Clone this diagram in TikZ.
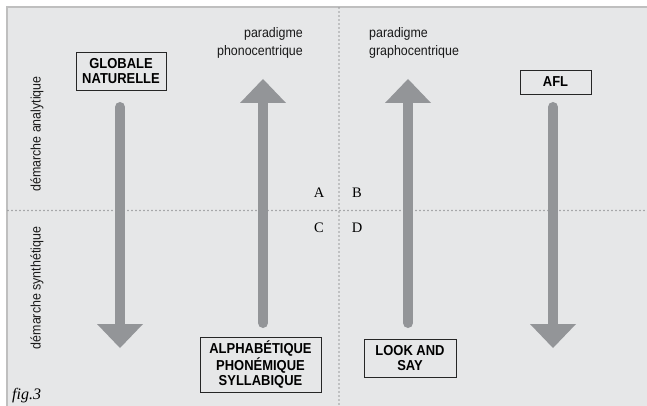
\documentclass[tikz,border=0pt]{standalone}
\usepackage{fontspec}
\setmainfont{Liberation Sans}
\newfontfamily\narrowsans[FakeStretch=0.9]{Liberation Sans}
\newfontfamily\seriffont{Liberation Serif}
\begin{document}
\begin{tikzpicture}[x=1pt,y=-1pt,
  shaft/.style={draw=arrc,line width=10pt,line cap=round},
  head/.style={fill=arrc},
  dotline/.style={draw=dotc,line width=1.9pt,dash pattern=on 0pt off 4pt,line cap=round},
  boxnode/.style={draw=black!85,line width=0.9pt,fill=bgc,inner sep=0pt,align=center,
     font=\narrowsans\fontsize{14.4}{15.5}\selectfont\bfseries},
  lbl/.style={inner sep=0pt,text=black!90,font=\narrowsans\fontsize{13.8}{18}\selectfont},
  letter/.style={inner sep=0pt,font=\seriffont\fontsize{14.5}{16}\selectfont}]
\definecolor{bgc}{HTML}{E6E7E8}
\definecolor{arrc}{HTML}{939598}
\definecolor{dotc}{HTML}{9A9B9D}
\useasboundingbox (0,0) rectangle (647,406);
\fill[white] (0,0) rectangle (647,406);
\fill[bgc] (7,7) rectangle (647,406);
\draw[draw=black!25,line width=1.5pt] (7,406) -- (7,7) -- (647,7);
% dotted axes
\coordinate (hl) at (8,210.5);
\coordinate (hr) at (647,210.5);
\coordinate (vt) at (339,8);
\coordinate (vb) at (339,406);
\draw[dotline] (hl) -- (hr);
\draw[dotline] (vt) -- (vb);
% boxes
\node[boxnode,minimum width=90pt,minimum height=38pt] (glob) at (121,71) {GLOBALE\\NATURELLE};
\node[boxnode,minimum width=71pt,minimum height=24pt] (afl) at (555.5,82) {AFL};
\node[boxnode,minimum width=121pt,minimum height=55pt] (alph) at (260.5,364.5) {ALPHABÉTIQUE\\PHONÉMIQUE\\SYLLABIQUE};
\node[boxnode,minimum width=92pt,minimum height=38pt] (look) at (410,358) {LOOK AND\\SAY};
% arrows
\coordinate (a1s) at (120,107); \coordinate (a1b) at (120,326);
\draw[shaft] (a1s) -- (a1b);
\fill[head] (97,324) -- (143,324) -- (120,348) -- cycle;
\coordinate (a2s) at (263,323); \coordinate (a2b) at (263,101);
\draw[shaft] (a2s) -- (a2b);
\fill[head] (240,103) -- (286,103) -- (263,79) -- cycle;
\coordinate (a3s) at (408,323); \coordinate (a3b) at (408,101);
\draw[shaft] (a3s) -- (a3b);
\fill[head] (385,103) -- (431,103) -- (408,79) -- cycle;
\coordinate (a4s) at (553,107); \coordinate (a4b) at (553,326);
\draw[shaft] (a4s) -- (a4b);
\fill[head] (530,324) -- (576,324) -- (553,348) -- cycle;
% labels
\node[lbl,align=right,anchor=east] (phono) at (303,42.5) {paradigme\\phonocentrique};
\node[lbl,align=left,anchor=west] (grapho) at (369,42.5) {paradigme\\graphocentrique};
\node[lbl,rotate=90] (anal) at (37,134) {démarche analytique};
\node[lbl,rotate=90] (synth) at (37,288) {démarche synthétique};
\node[letter] (A) at (319,193) {A};
\node[letter] (B) at (357,193) {B};
\node[letter] (C) at (319,228) {C};
\node[letter] (D) at (357,228) {D};
\node[inner sep=0pt,anchor=base west,font=\seriffont\itshape\fontsize{16}{18}\selectfont] (fig) at (12,399) {fig.3};
\end{tikzpicture}
\end{document}
